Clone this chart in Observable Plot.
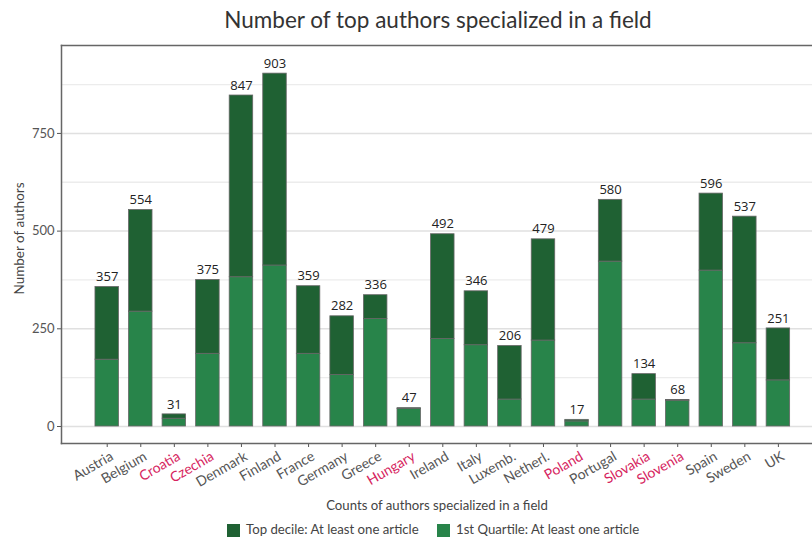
<!DOCTYPE html>
<html>
<head>
<meta charset="utf-8">
<script src="https://cdn.jsdelivr.net/npm/d3@7"></script>
<script src="https://cdn.jsdelivr.net/npm/@observablehq/plot@0.6"></script>
<style>
  html, body { margin: 0; padding: 0; background: #fff; }
  body { width: 812px; height: 537px; position: relative; overflow: hidden; font-family: Lato, "Open Sans", sans-serif; }
  #title { position: absolute; top: 6px; left: 0; width: 876px; text-align: center; font-size: 22.5px; color: #333; }
  #chart { position: absolute; top: 44px; left: 0; }
  #legend { position: absolute; top: 521px; left: 0; width: 812px; font-size: 13.2px; color: #444; }
  .sw { position: absolute; width: 13px; height: 13px; top: 3px; }
  .lt { position: absolute; top: 0px; white-space: nowrap; }
</style>
</head>
<body>
<div id="title">Number of top authors specialized in a field</div>
<div id="chart"></div>
<div id="legend">
  <div class="sw" style="left:227px;background:#1f6133"></div><div class="lt" style="left:246px">Top decile: At least one article</div>
  <div class="sw" style="left:437px;background:#28844a"></div><div class="lt" style="left:456px">1st Quartile: At least one article</div>
</div>
<script>
const countries = ["Austria","Belgium","Croatia","Czechia","Denmark","Finland","France","Germany","Greece","Hungary","Ireland","Italy","Luxemb.","Netherl.","Poland","Portugal","Slovakia","Slovenia","Spain","Sweden","UK"];
const highlighted = ["Croatia","Czechia","Hungary","Poland","Slovakia","Slovenia"];
const totals =   [357,554,31,375,847,903,359,282,336,47,492,346,206,479,17,580,134,68,596,537,251];
const quartile = [171,294,20,186,382,412,186,132,275,45,224,208,69,220,13,422,69,66,399,213,118];
const decile =   [186,260,11,189,465,491,173,150,61,2,268,138,137,259,4,158,65,2,197,324,133];
const yTicks = [0,250,500,750];
const yMinor = [125,375,625,875];
const seriesNames = ["1st Quartile: At least one article","Top decile: At least one article"];
const seriesColors = ["#28844a","#1f6133"];

const rows = [];
countries.forEach((c,i) => {
  rows.push({country: c, series: seriesNames[0], value: quartile[i]});
  rows.push({country: c, series: seriesNames[1], value: decile[i]});
});
const totalRows = countries.map((c,i) => ({country: c, total: totals[i]}));

const chart = Plot.plot({
  width: 812,
  height: 473,
  marginTop: 1,
  marginLeft: 61,
  marginRight: 0,
  marginBottom: 74,
  style: {fontFamily: "Lato, 'Open Sans', sans-serif", background: "#fff"},
  x: {domain: countries, range: [84.9, 799.7], padding: 0.3, round: false, axis: null},
  y: {domain: [-43.5, 975], axis: null},
  color: {domain: seriesNames, range: seriesColors},
  marks: [
    Plot.gridY(yMinor, {stroke: "#ececec", strokeOpacity: 1, strokeWidth: 1.3}),
    Plot.gridY(yTicks, {stroke: "#e0e0e0", strokeOpacity: 1, strokeWidth: 1.5}),
    Plot.barY(rows, {x: "country", y: "value", fill: "series", stroke: "#666", strokeWidth: 0.8}),
    Plot.text(totalRows, {x: "country", y: "total", text: d => String(d.total), dy: -10, fontSize: 13, fill: "#222", fontFamily: "'Open Sans', sans-serif"}),
    Plot.axisY({ticks: yTicks, tickSize: 4, tickPadding: 3, fontSize: 13, color: "#555", label: null}),
    Plot.axisX({tickSize: 4, tickFormat: () => "", label: null, stroke: "#555"}),
    Plot.text(countries, {x: d => d, frameAnchor: "bottom", rotate: -30, textAnchor: "end", lineAnchor: "top", dx: 2, dy: 7, fontSize: 14,
      fill: d => highlighted.includes(d) ? "#d6245e" : "#555"}),
    Plot.text(["Number of authors"], {frameAnchor: "left", rotate: -90, dx: -42, dy: -6, fontSize: 13.5, fill: "#444", textAnchor: "middle", lineAnchor: "middle"}),
    Plot.text(["Counts of authors specialized in a field"], {frameAnchor: "bottom", dy: 62, fontSize: 13.2, fill: "#444", textAnchor: "middle", lineAnchor: "middle"}),
    Plot.frame({anchor: "top", stroke: "#666", strokeWidth: 1.5}),
    Plot.frame({anchor: "left", stroke: "#666", strokeWidth: 1.5}),
    Plot.frame({anchor: "bottom", stroke: "#666", strokeWidth: 1.5})
  ]
});
document.getElementById("chart").appendChild(chart);
</script>
</body>
</html>
